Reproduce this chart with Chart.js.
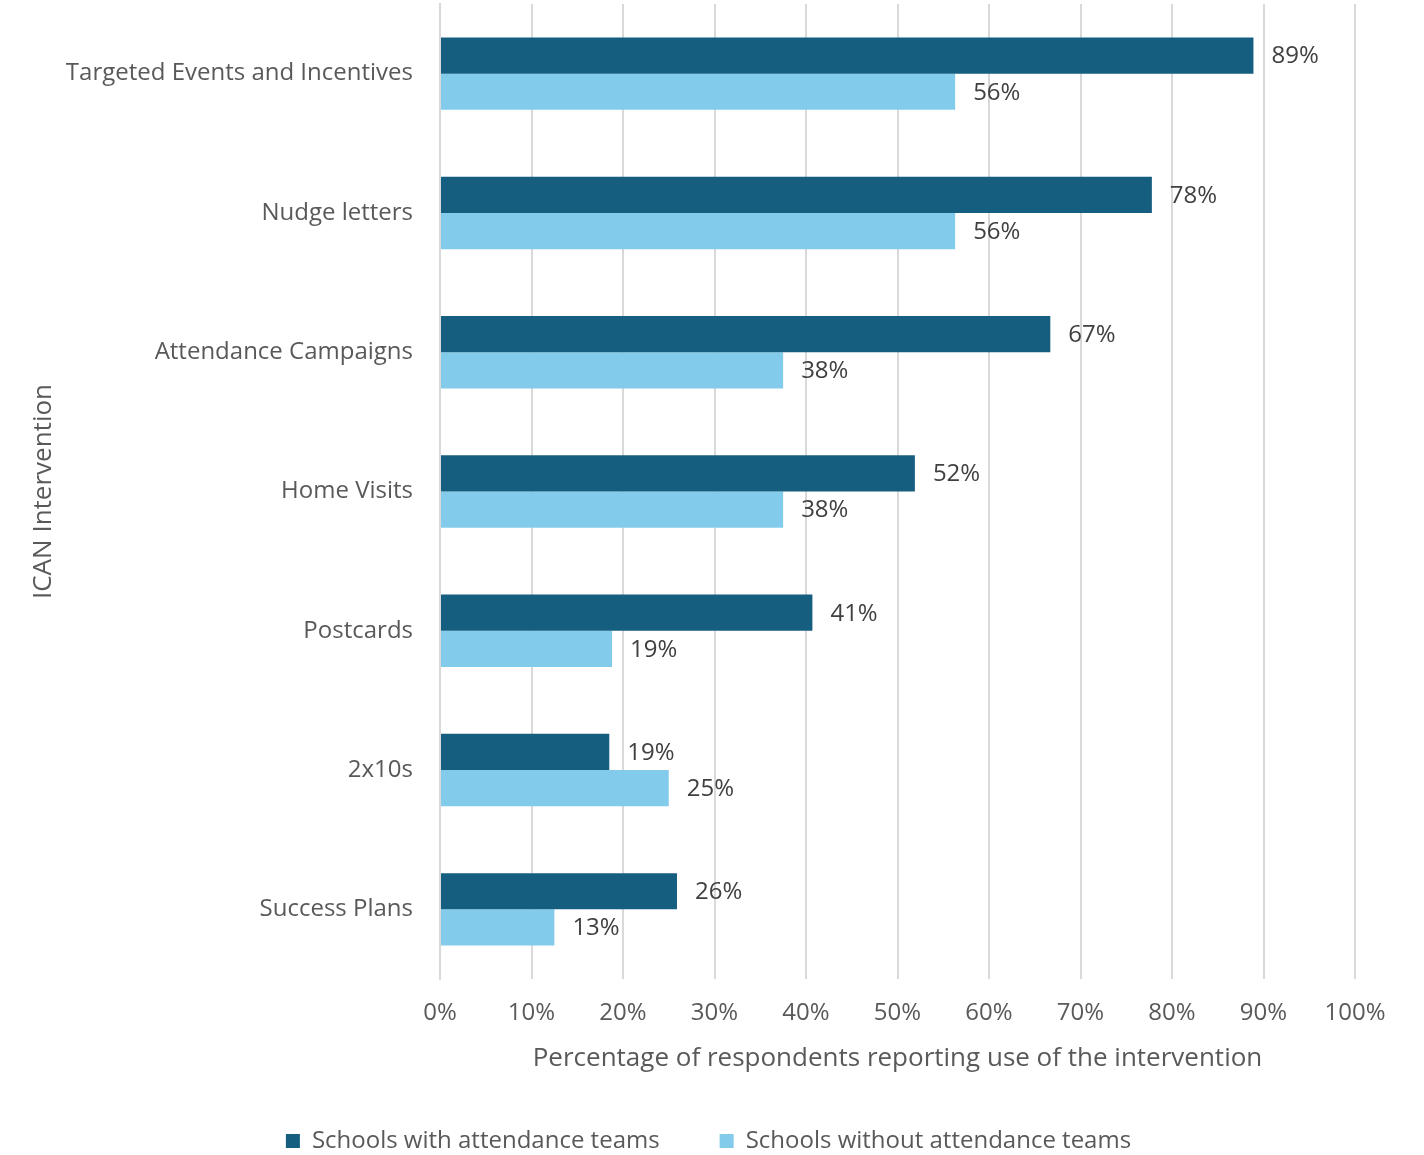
<!DOCTYPE html>
<html>
<head>
<meta charset="utf-8">
<script src="https://cdn.jsdelivr.net/npm/chart.js@4.4.1/dist/chart.umd.min.js"></script>
<style>
  html, body { margin: 0; padding: 0; background: #fff; }
  #wrap { width: 1424px; height: 1155px; }
</style>
</head>
<body>
<div id="wrap"><canvas id="myChart"></canvas></div>
<script>
const categories = ['Targeted Events and Incentives', 'Nudge letters', 'Attendance Campaigns', 'Home Visits', 'Postcards', '2x10s', 'Success Plans'];
const withTeams = [88.9, 77.8, 66.7, 51.9, 40.7, 18.5, 25.9];
const withoutTeams = [56.3, 56.3, 37.5, 37.5, 18.8, 25.0, 12.5];
const seriesNames = ['Schools with attendance teams', 'Schools without attendance teams'];

const fontFam = "'Open Sans', sans-serif";
const grey = '#595959';

// draw "89%" style labels at the bar ends
const barLabels = {
  id: 'barLabels',
  afterDatasetsDraw(chart) {
    const ctx = chart.ctx;
    ctx.save();
    ctx.font = '24px ' + fontFam;
    ctx.fillStyle = '#404040';
    ctx.textBaseline = 'middle';
    ctx.textAlign = 'left';
    chart.data.datasets.forEach((ds, i) => {
      chart.getDatasetMeta(i).data.forEach((bar, j) => {
        ctx.fillText(Math.round(ds.data[j]) + '%', bar.x + 18, bar.y + 1);
      });
    });
    ctx.restore();
  }
};

const ctx = document.getElementById('myChart');

new Chart(ctx, {
  type: 'bar',
  data: {
    labels: categories,
    datasets: [{
      label: seriesNames[0],
      data: withTeams,
      backgroundColor: '#165E80',
      categoryPercentage: 0.52,
      barPercentage: 1
    }, {
      label: seriesNames[1],
      data: withoutTeams,
      backgroundColor: '#83CBEB',
      categoryPercentage: 0.52,
      barPercentage: 1
    }]
  },
  plugins: [barLabels],
  options: {
    indexAxis: 'y',
    responsive: true,
    maintainAspectRatio: false,
    animation: false,
    layout: {
      padding: { top: 4, right: 69, left: 62, bottom: -8 }
    },
    scales: {
      x: {
        min: 0,
        max: 100,
        ticks: {
          stepSize: 10,
          callback: v => v + '%',
          color: grey,
          font: { family: fontFam, size: 24 },
          padding: 20
        },
        grid: { color: '#d9d9d9', lineWidth: 2, drawTicks: false },
        border: { display: false },
        title: {
          display: true,
          text: 'Percentage of respondents reporting use of the intervention',
          color: grey,
          font: { family: fontFam, size: 26 },
          padding: { top: -5, bottom: -5 }
        }
      },
      y: {
        ticks: {
          color: grey,
          font: { family: fontFam, size: 24 },
          padding: 19
        },
        grid: { display: false },
        border: { display: true, color: '#d9d9d9', width: 2 },
        title: {
          display: true,
          text: 'ICAN Intervention',
          color: grey,
          font: { family: fontFam, size: 26 },
          padding: { top: -34, bottom: 0 }
        },
        afterFit(scale) {
          scale.width = 378;
          scale.paddingTop = 0;
          scale.paddingBottom = 0;
        }
      }
    },
    plugins: {
      legend: {
        position: 'bottom',
        labels: {
          boxWidth: 14,
          boxHeight: 14,
          padding: 60,
          color: grey,
          font: { family: fontFam, size: 24 }
        }
      },
      tooltip: { enabled: false }
    }
  }
});
</script>
</body>
</html>
